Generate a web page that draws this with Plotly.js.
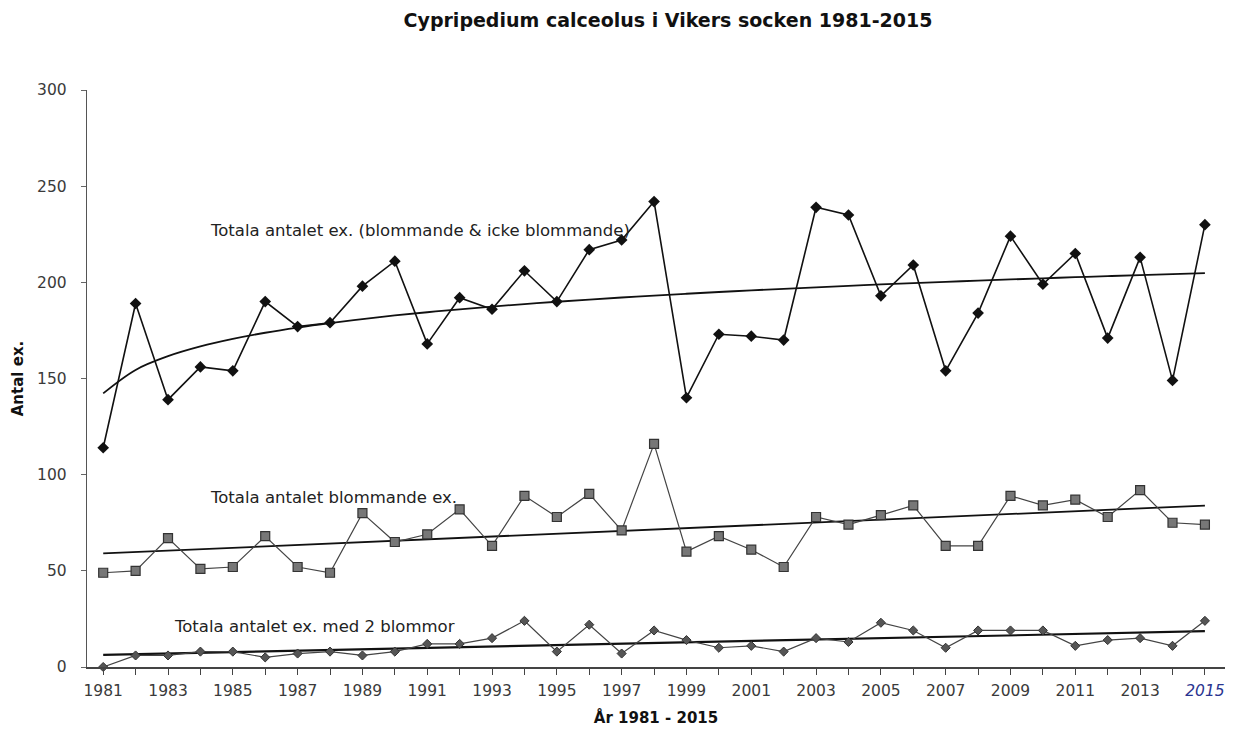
<!DOCTYPE html>
<html>
<head>
<meta charset="utf-8">
<script src="https://cdn.plot.ly/plotly-3.0.1.min.js"></script>
<style>html,body{margin:0;padding:0;background:#fff;}#chart{width:1245px;height:731px;}</style>
</head>
<body>
<div id="chart"></div>
<script>
const years = [1981,1982,1983,1984,1985,1986,1987,1988,1989,1990,1991,1992,1993,1994,1995,1996,1997,1998,1999,2000,2001,2002,2003,2004,2005,2006,2007,2008,2009,2010,2011,2012,2013,2014,2015];
const totalEx = [114,189,139,156,154,190,177,179,198,211,168,192,186,206,190,217,222,242,140,173,172,170,239,235,193,209,154,184,224,199,215,171,213,149,230];
const flowering = [49,50,67,51,52,68,52,49,80,65,69,82,63,89,78,90,71,116,60,68,61,52,78,74,79,84,63,63,89,84,87,78,92,75,74];
const twoFlowers = [0,6,6,8,8,5,7,8,6,8,12,12,15,24,8,22,7,19,14,10,11,8,15,13,23,19,10,19,19,19,11,14,15,11,24];
const labelTotal = "Totala antalet ex. (blommande & icke blommande)";
const labelFlowering = "Totala antalet blommande ex.";
const labelTwo = "Totala antalet ex. med 2 blommor";

function fit(xs, ys) {
  const n = xs.length;
  let sx=0, sy=0, sxx=0, sxy=0;
  for (let i=0;i<n;i++){sx+=xs[i];sy+=ys[i];sxx+=xs[i]*xs[i];sxy+=xs[i]*ys[i];}
  const b = (n*sxy - sx*sy)/(n*sxx - sx*sx);
  const a = (sy - b*sx)/n;
  return {a, b};
}
const idx = years.map((y,i)=>i+1);
const lnIdx = idx.map(t=>Math.log(t));
const fLog = fit(lnIdx, totalEx);
const trendTotal = lnIdx.map(l => fLog.a + fLog.b*l);
const fLin1 = fit(idx, flowering);
const trendFlow = idx.map(t => fLin1.a + fLin1.b*t);
const fLin2 = fit(idx, twoFlowers);
const trendTwo = idx.map(t => fLin2.a + fLin2.b*t);

const tickText = years.map(y => {
  if (y === 2015) return "<span style='color:#2a3590'><i>2015</i></span>";
  return (y % 2 === 1) ? String(y) : "";
});

const traces = [
  {x: years, y: trendTotal, mode:'lines', line:{color:'#111', width:1.8, shape:'spline'}, hoverinfo:'skip'},
  {x: years, y: trendFlow, mode:'lines', line:{color:'#111', width:1.8}, hoverinfo:'skip'},
  {x: years, y: trendTwo, mode:'lines', line:{color:'#111', width:2.2}, hoverinfo:'skip'},
  {x: years, y: totalEx, mode:'lines+markers', name: labelTotal, cliponaxis:false,
   line:{color:'#111', width:1.6}, marker:{symbol:'diamond', size:9, color:'#111'}},
  {x: years, y: flowering, mode:'lines+markers', name: labelFlowering, cliponaxis:false,
   line:{color:'#444', width:1.2}, marker:{symbol:'square', size:9, color:'#777', line:{color:'#333', width:1.2}}},
  {x: years, y: twoFlowers, mode:'lines+markers', name: labelTwo, cliponaxis:false,
   line:{color:'#444', width:1.2}, marker:{symbol:'diamond', size:7, color:'#555', line:{color:'#333', width:1}}}
];

const layout = {
  width:1245, height:731,
  margin:{l:87, r:20, t:90, b:64},
  paper_bgcolor:'#fff', plot_bgcolor:'#fff',
  showlegend:false,
  font:{family:'"DejaVu Sans", "Liberation Sans", Arial, sans-serif', color:'#333'},
  title:{text:'<b>Cypripedium calceolus i Vikers socken 1981-2015</b>', xref:'container', x:668/1245, xanchor:'center', yref:'container', y:1-20/731, yanchor:'middle', font:{size:19, color:'#111'}},
  xaxis:{
    range:[1980.5, 2015.62], tickmode:'array', tickvals: years, ticktext: tickText,
    ticks:'outside', ticklen:6, tickcolor:'#444', tickwidth:1,
    showline:true, linecolor:'#444', linewidth:1.5, showgrid:false, zeroline:false,
    tickfont:{size:15.5, color:'#3a3a3a'}, ticklabelstandoff:3,
    title:{text:'<b>År 1981 - 2015</b>', font:{size:15, color:'#111'}, standoff:13}
  },
  yaxis:{
    range:[0,300], tickvals:[0,50,100,150,200,250,300],
    ticks:'outside', ticklen:5, tickcolor:'#666',
    showline:true, linecolor:'#555', linewidth:1.2, showgrid:false, zeroline:false,
    tickfont:{size:15.5, color:'#3a3a3a'}, ticklabelstandoff:11,
    title:{text:'<b>Antal ex.</b>', font:{size:15, color:'#111'}, standoff:9}
  },
  annotations:[
    {x:1984.23, y:227, xref:'x', yref:'y', text:labelTotal, showarrow:false, xanchor:'left', font:{size:16.5, color:'#222'}},
    {x:1984.23, y:88, xref:'x', yref:'y', text:labelFlowering, showarrow:false, xanchor:'left', font:{size:16.5, color:'#222'}},
    {x:1983.12, y:21, xref:'x', yref:'y', text:labelTwo, showarrow:false, xanchor:'left', font:{size:16.5, color:'#222'}}
  ]
};

Plotly.newPlot('chart', traces, layout, {staticPlot:true, displayModeBar:false});
</script>
</body>
</html>
